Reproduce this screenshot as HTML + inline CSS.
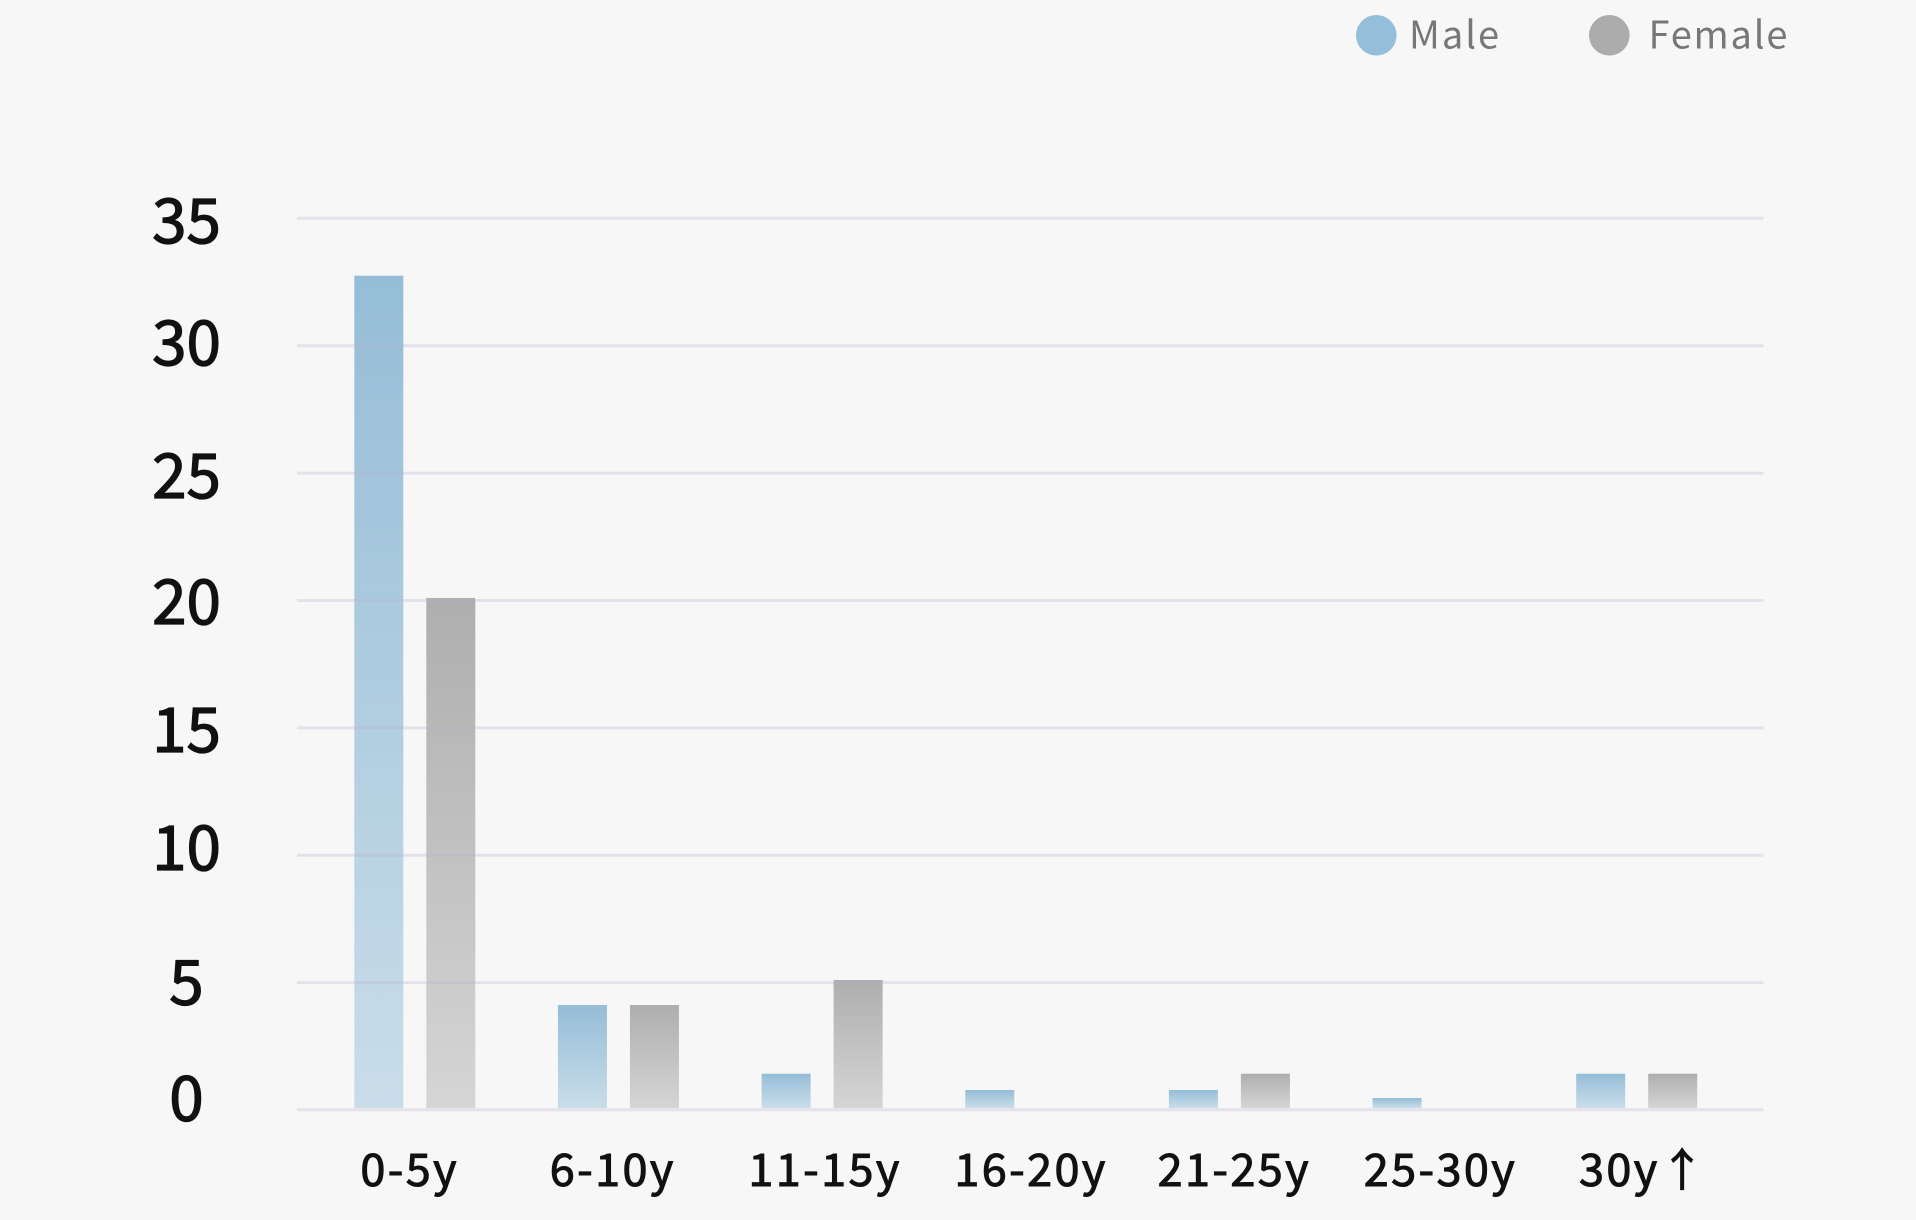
<!DOCTYPE html>
<html>
<head>
<meta charset="utf-8">
<style>
  html, body { margin: 0; padding: 0; background: #f7f7f8; }
  body { width: 1916px; height: 1220px; overflow: hidden; }
  svg { display: block; }
  .ax { font-family: "Noto Sans CJK SC", "Liberation Sans", sans-serif; fill: #111; stroke: #111; }
  .lg { font-family: "Noto Sans CJK SC", "Liberation Sans", sans-serif; fill: #777; }
</style>
</head>
<body>
<svg width="1916" height="1220" viewBox="0 0 1916 1220" xmlns="http://www.w3.org/2000/svg">
  <defs>
    <linearGradient id="gm" x1="0" y1="0" x2="0" y2="1">
      <stop offset="0" stop-color="#95bdd7"/>
      <stop offset="1" stop-color="#c9dde9"/>
    </linearGradient>
    <linearGradient id="gf" x1="0" y1="0" x2="0" y2="1">
      <stop offset="0" stop-color="#aeaeae"/>
      <stop offset="1" stop-color="#d5d5d5"/>
    </linearGradient>
  </defs>
  <rect x="0" y="0" width="1916" height="1220" fill="#f7f7f8"/>

  <!-- Legend -->
  <circle cx="1376.3" cy="35.3" r="20.3" fill="#94bed9"/>
  <text class="lg" x="1409" y="48.3" font-size="38" letter-spacing="2">Male</text>
  <circle cx="1609.3" cy="35.3" r="20.3" fill="#acacac"/>
  <text class="lg" x="1648.5" y="48.3" font-size="38" letter-spacing="1.8">Female</text>

  <!-- Bars -->
  <g>
    <rect x="354.3" y="275.7" width="49" height="832.3" fill="url(#gm)"/>
    <rect x="426.3" y="598" width="49" height="510" fill="url(#gf)"/>
    <rect x="557.95" y="1005" width="49" height="103" fill="url(#gm)"/>
    <rect x="629.95" y="1005" width="49" height="103" fill="url(#gf)"/>
    <rect x="761.6" y="1073.7" width="49" height="34.3" fill="url(#gm)"/>
    <rect x="833.6" y="980" width="49" height="128" fill="url(#gf)"/>
    <rect x="965.25" y="1090" width="49" height="18" fill="url(#gm)"/>
    <rect x="1168.9" y="1090" width="49" height="18" fill="url(#gm)"/>
    <rect x="1240.9" y="1073.7" width="49" height="34.3" fill="url(#gf)"/>
    <rect x="1372.55" y="1098" width="49" height="10" fill="url(#gm)"/>
    <rect x="1576.2" y="1073.7" width="49" height="34.3" fill="url(#gm)"/>
    <rect x="1648.2" y="1073.7" width="49" height="34.3" fill="url(#gf)"/>
  </g>

  <!-- Gridlines -->
  <g stroke="rgba(190,175,205,0.30)" stroke-width="3">
    <line x1="297" y1="218.3" x2="1763.5" y2="218.3"/>
    <line x1="297" y1="345.7" x2="1763.5" y2="345.7"/>
    <line x1="297" y1="473.1" x2="1763.5" y2="473.1"/>
    <line x1="297" y1="600.5" x2="1763.5" y2="600.5"/>
    <line x1="297" y1="727.9" x2="1763.5" y2="727.9"/>
    <line x1="297" y1="855.3" x2="1763.5" y2="855.3"/>
    <line x1="297" y1="982.6" x2="1763.5" y2="982.6"/>
    <line x1="297" y1="1109.8" x2="1763.5" y2="1109.8"/>
  </g>

  <!-- Y labels -->
  <g class="ax" font-size="62" text-anchor="middle" stroke-width="1.3">
    <text x="186.5" y="243">35</text>
    <text x="186.5" y="365">30</text>
    <text x="186.5" y="498">25</text>
    <text x="186.5" y="624">20</text>
    <text x="186.5" y="752">15</text>
    <text x="186.5" y="870">10</text>
    <text x="186.5" y="1004.5">5</text>
    <text x="186.5" y="1120.5">0</text>
  </g>

  <!-- X labels -->
  <g class="ax" font-size="45" text-anchor="middle" letter-spacing="2.4" stroke-width="1">
    <text x="409.7" y="1186">0-5y</text>
    <text x="612.7" y="1186">6-10y</text>
    <text x="825" y="1186">11-15y</text>
    <text x="1031" y="1186">16-20y</text>
    <text x="1234.3" y="1186">21-25y</text>
    <text x="1440.4" y="1186">25-30y</text>
    <text x="1643" y="1186">30y↑</text>
  </g>
</svg>
</body>
</html>
